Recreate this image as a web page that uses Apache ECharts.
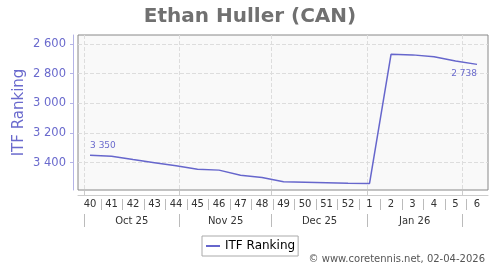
<!DOCTYPE html>
<html><head><meta charset="utf-8">
<script src="https://cdn.jsdelivr.net/npm/echarts@6/dist/echarts.min.js"></script>
<style>html,body{margin:0;padding:0;background:#fff}#c{width:500px;height:270px}</style>
</head><body><div id="c"></div>
<script>
const weeks = ['40','41','42','43','44','45','46','47','48','49','50','51','52','1','2','3','4','5','6'];
const ranking = [3350, 3357, 3380, 3401, 3422, 3445, 3451, 3485, 3500, 3530, 3533, 3536, 3539, 3541, 2670, 2674, 2686, 2715, 2738];
const months = ['Oct 25', 'Nov 25', 'Dec 25', 'Jan 26'];
// month starts expressed in week-index units (week 40 = 0)
const monthStarts = [-0.28, 4.16, 8.45, 12.9, 17.3];
const yTicks = [2600, 2800, 3000, 3200, 3400];

const FONT = 'DejaVu Sans';
const LINE = '#6666cc';
const fmt = v => String(v).replace(/\B(?=(\d{3})+(?!\d))/g, ' ');
const weekIdx = weeks.map((_, i) => i);
const weekSeps = weeks.slice(1).map((_, i) => i + 0.5);
const monthMid = months.map((_, i) => (monthStarts[i] + monthStarts[i + 1]) / 2);
const X_MIN = -0.56, X_MAX = 18.51;

const data = ranking.map((v, i) => {
  const item = { value: [i, v] };
  if (i === 0) item.label = { show: true, position: 'top', align: 'left' };
  if (i === ranking.length - 1) item.label = { show: true, position: 'bottom', align: 'right' };
  return item;
});

const chart = echarts.init(document.getElementById('c'), null, { renderer: 'canvas' });
chart.setOption({
  animation: false,
  textStyle: { fontFamily: FONT },
  title: [
    { text: 'Ethan Huller (CAN)', left: 'center', top: 2,
      textStyle: { fontFamily: FONT, fontSize: 20, fontWeight: 'bold', color: '#707070' } },
    { text: '© www.coretennis.net, 02-04-2026', right: 10, bottom: 1,
      textStyle: { fontFamily: FONT, fontSize: 10, fontWeight: 'normal', color: '#555' } }
  ],
  legend: {
    left: 202, top: 236, padding: [3, 3, 3, 4],
    borderColor: '#aaa', borderWidth: 1,
    itemWidth: 14, itemHeight: 2,
    textStyle: { fontFamily: FONT, fontSize: 12, color: '#000', lineHeight: 14 },
    data: [{ name: 'ITF Ranking', icon: 'rect' }]
  },
  grid: { left: 78, right: 12, top: 35, bottom: 80, show: true,
    borderColor: '#888', borderWidth: 1, backgroundColor: '#f9f9f9' },
  xAxis: [
    { type: 'value', position: 'bottom', offset: 5, min: X_MIN, max: X_MAX,
      axisLine: { show: true, onZero: false, lineStyle: { color: '#ccc' } },
      axisTick: { show: true, inside: true, length: 4, customValues: monthStarts, lineStyle: { color: '#ccc' } },
      axisLabel: { customValues: weekIdx, margin: 4, fontSize: 10, color: '#333',
        formatter: v => weeks[Math.round(v)] },
      splitLine: { show: true, lineStyle: { type: 'dashed', color: '#ddd' } } },
    { type: 'value', position: 'bottom', offset: 9, min: X_MIN, max: X_MAX,
      axisLine: { show: false, onZero: false },
      axisTick: { show: true, length: 11, customValues: weekSeps, lineStyle: { color: '#bbb' } },
      axisLabel: { show: false }, splitLine: { show: false } },
    { type: 'value', position: 'bottom', offset: 24, min: X_MIN, max: X_MAX,
      axisLine: { show: false, onZero: false },
      axisTick: { show: true, length: 13, customValues: monthStarts, lineStyle: { color: '#bbb' } },
      axisLabel: { customValues: monthMid, margin: 2, fontSize: 10, color: '#333',
        formatter: v => { let b = 0; monthMid.forEach((m, i) => { if (Math.abs(m - v) < Math.abs(monthMid[b] - v)) b = i; }); return months[b]; } },
      splitLine: { show: false } }
  ],
  yAxis: {
    type: 'value', inverse: true, min: 2540, max: 3585, position: 'left', offset: 5,
    name: 'ITF Ranking', nameLocation: 'middle', nameGap: 46, nameMoveOverlap: false,
    nameTextStyle: { fontFamily: FONT, fontSize: 15, color: '#6a6acd' },
    axisLine: { show: true, onZero: false, lineStyle: { color: '#b4b4e6' } },
    axisTick: { show: true, length: 3, customValues: yTicks, lineStyle: { color: '#b4b4e6' } },
    axisLabel: { customValues: yTicks, margin: 7, fontSize: 11.5, color: '#6a6acd', formatter: fmt },
    splitLine: { show: true, lineStyle: { type: 'dashed', color: '#ddd' } }
  },
  series: [{
    name: 'ITF Ranking', type: 'line', xAxisIndex: 0, data: data,
    symbol: 'circle', symbolSize: 0, showSymbol: true,
    lineStyle: { color: LINE, width: 1.5 }, itemStyle: { color: LINE },
    label: { show: false, fontSize: 9, color: '#6a6acd', fontFamily: FONT, distance: 5,
      formatter: p => fmt(p.value[1]) }
  }]
});
</script></body></html>
